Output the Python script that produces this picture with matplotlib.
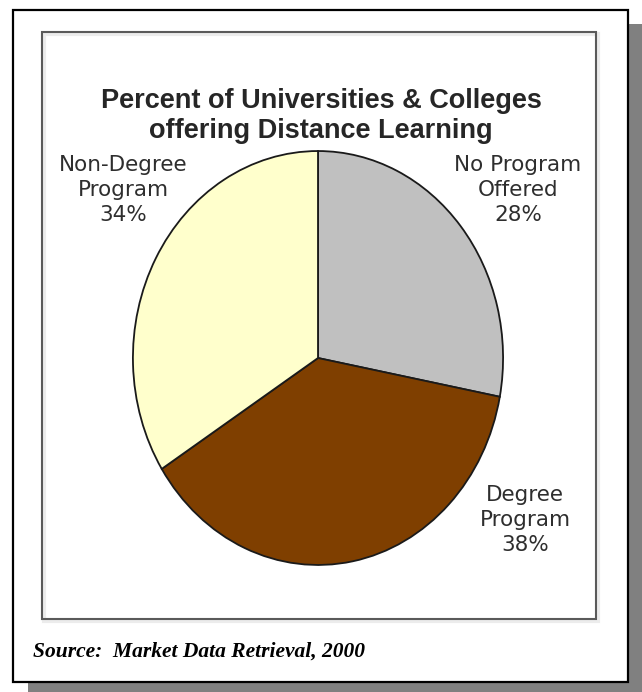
import matplotlib.pyplot as plt
from matplotlib.patches import Rectangle

# Distance learning survey shares
categories = ["No Program\nOffered", "Degree\nProgram", "Non-Degree\nProgram"]
shares = [28, 38, 34]
colors = ["#c0c0c0", "#7f3f00", "#ffffcc"]

title = "Percent of Universities & Colleges\noffering Distance Learning"
source = "Source:  Market Data Retrieval, 2000"

W, H = 642, 692
fig = plt.figure(figsize=(W / 100, H / 100), dpi=100)

# page frame in pixel coordinates
bg = fig.add_axes([0, 0, 1, 1])
bg.set_xlim(0, W)
bg.set_ylim(H, 0)
bg.axis("off")

bg.add_patch(Rectangle((28, 24), W - 28, H - 24, facecolor="#808080", edgecolor="none"))
bg.add_patch(Rectangle((13, 10), 615, 672, facecolor="white", edgecolor="black", lw=1.6))
bg.add_patch(Rectangle((44, 34), 554, 587, facecolor="none", edgecolor="#ececec", lw=3))
bg.add_patch(Rectangle((42, 32), 554, 587, facecolor="none", edgecolor="#5a5a5a", lw=1.5))

bg.text(321, 116, title, ha="center", va="center", fontsize=19.5, fontweight="bold",
        family="Liberation Sans", color="#262626", linespacing=1.2)

bg.text(33, 652, source, ha="left", va="center", fontsize=15.5, fontweight="bold",
        fontstyle="italic", family="Liberation Serif", color="black")

# slice labels beside the pie
label_pos = [(518, 190), (525, 520), (123, 190)]
for name, pct, (x, y) in zip(categories, shares, label_pos):
    bg.text(x, y, f"{name}\n{pct}%", ha="center", va="center", fontsize=15.5,
            family="DejaVu Sans", color="#2e2e2e", linespacing=1.33)

# elliptical pie: axes box stretched taller than wide
cx, cy, rx, ry = 318, 358, 186, 208
ax = fig.add_axes([(cx - rx) / W, (H - cy - ry) / H, 2 * rx / W, 2 * ry / H])
ax.pie(shares, colors=colors, startangle=90, counterclock=False,
       wedgeprops=dict(edgecolor="#1a1a1a", linewidth=1.3))
ax.set_aspect("auto")
ax.set_xlim(-1.005, 1.005)
ax.set_ylim(-1.005, 1.005)
ax.axis("off")

fig.savefig("out.png", dpi=100)
